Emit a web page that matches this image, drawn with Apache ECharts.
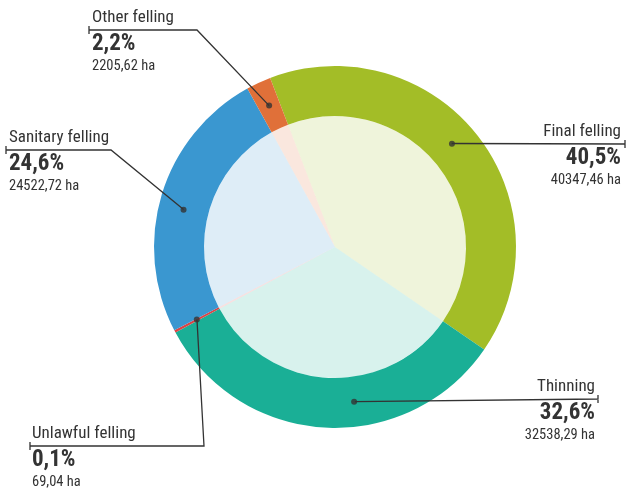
<!DOCTYPE html>
<html>
<head>
<meta charset="utf-8">
<script src="https://cdn.jsdelivr.net/npm/echarts@6/dist/echarts.min.js"></script>
<style>
	html, body { margin: 0; padding: 0; background: #fff; }
	#chart { width: 627px; height: 494px; }
</style>
</head>
<body>
<div id="chart"></div>
<script>
	// data
	var names = ['Final felling', 'Thinning', 'Unlawful felling', 'Sanitary felling', 'Other felling'];
	var areas = [40347.46, 32538.29, 69.04, 24522.72, 2205.62];
	var colors = ['#a3bd27', '#1aaf96', '#d94646', '#3a97d0', '#e07039'];

	var total = 0;
	for (var i = 0; i < areas.length; i++) total += areas[i];

	function fmt(v, d) {
		return v.toFixed(d).replace('.', ',');
	}

	// label layout: line y, bend x, end x, text x, align, dot shift (deg, ccw)
	var cx = 335, cy = 247, rOuter = 181, rInner = 131, rDot = 156;
	var labelPos = [
		{ lineY: 144, bendX: null, endX: 625, textX: 621, align: 'right', shift: 3.3 },
		{ lineY: 399, bendX: null, endX: 598, textX: 595, align: 'right', shift: 10.5 },
		{ lineY: 446, bendX: 204, endX: 30, textX: 32, align: 'left', shift: 0 },
		{ lineY: 150, bendX: 111, endX: 6, textX: 9, align: 'left', shift: 2.9 },
		{ lineY: 30, bendX: 197, endX: 89, textX: 92, align: 'left', shift: 0 }
	];

	var ringData = [], innerData = [], labelData = [], dots = [];
	var acc = 0;
	for (var i = 0; i < names.length; i++) {
		ringData.push({ name: names[i], value: areas[i], itemStyle: { color: colors[i] } });
		innerData.push({ name: names[i], value: areas[i], itemStyle: { color: colors[i], opacity: 0.17 } });
		labelData.push({ name: names[i], value: areas[i] });
		dots.push([rDot, acc + areas[i] / 2 - labelPos[i].shift / 360 * total]);
		acc += areas[i];
	}

	var font = "Roboto Condensed";
	var chart = echarts.init(document.getElementById('chart'));
	var pieBase = { type: 'pie', center: [cx, cy], startAngle: 111, clockwise: true, minAngle: 0.8, silent: true, avoidLabelOverlap: false };
	var option = {
		animation: false,
		polar: { center: [cx, cy], radius: rOuter },
		angleAxis: { type: 'value', min: 0, max: total, startAngle: 111, clockwise: true, show: false },
		radiusAxis: { type: 'value', min: 0, max: rOuter, show: false },
		series: [
			echarts.util.merge({
				radius: [0, rInner],
				label: { show: false },
				labelLine: { show: false },
				data: innerData
			}, pieBase),
			echarts.util.merge({
				radius: [rInner, rOuter],
				label: { show: false },
				labelLine: { show: false },
				data: ringData
			}, pieBase),
			// transparent copy on top, only for labels and leader lines
			echarts.util.merge({
				radius: [rInner, rOuter],
				z: 4,
				itemStyle: { color: 'rgba(0,0,0,0)' },
				label: {
					show: true,
					position: 'outside',
					fontFamily: font,
					color: '#333',
					formatter: function (p) {
						return '{t|' + p.name + '}\n{p|' + fmt(p.value / total * 100, 1) + '%}\n{h|' + fmt(p.value, 2) + ' ha}';
					},
					rich: {
						t: { fontSize: 17, lineHeight: 22, fontFamily: font, color: '#333' },
						p: { fontSize: 23, fontWeight: 'bold', lineHeight: 30, fontFamily: font, color: '#333' },
						h: { fontSize: 14.5, lineHeight: 14, fontFamily: font, color: '#333' }
					}
				},
				labelLine: { show: true, lineStyle: { color: '#333', width: 1.3 } },
				labelLayout: function (params) {
					var lp = labelPos[params.dataIndex];
					var p0 = params.labelLinePoints[0];
					var a = Math.atan2(p0[1] - cy, p0[0] - cx) - lp.shift * Math.PI / 180;
					var pts = [[cx + rDot * Math.cos(a), cy + rDot * Math.sin(a)]];
					if (lp.bendX !== null) pts.push([lp.bendX, lp.lineY]);
					pts.push([lp.endX, lp.lineY], [lp.endX, lp.lineY - 4], [lp.endX, lp.lineY + 4]);
					return {
						x: lp.textX,
						y: lp.lineY - 23,
						align: lp.align,
						verticalAlign: 'top',
						labelLinePoints: pts
					};
				},
				data: labelData
			}, pieBase),
			{
				type: 'scatter',
				coordinateSystem: 'polar',
				symbolSize: 6,
				silent: true,
				itemStyle: { color: '#333' },
				z: 5,
				data: dots
			}
		]
	};
	chart.setOption(option);
</script>
</body>
</html>
